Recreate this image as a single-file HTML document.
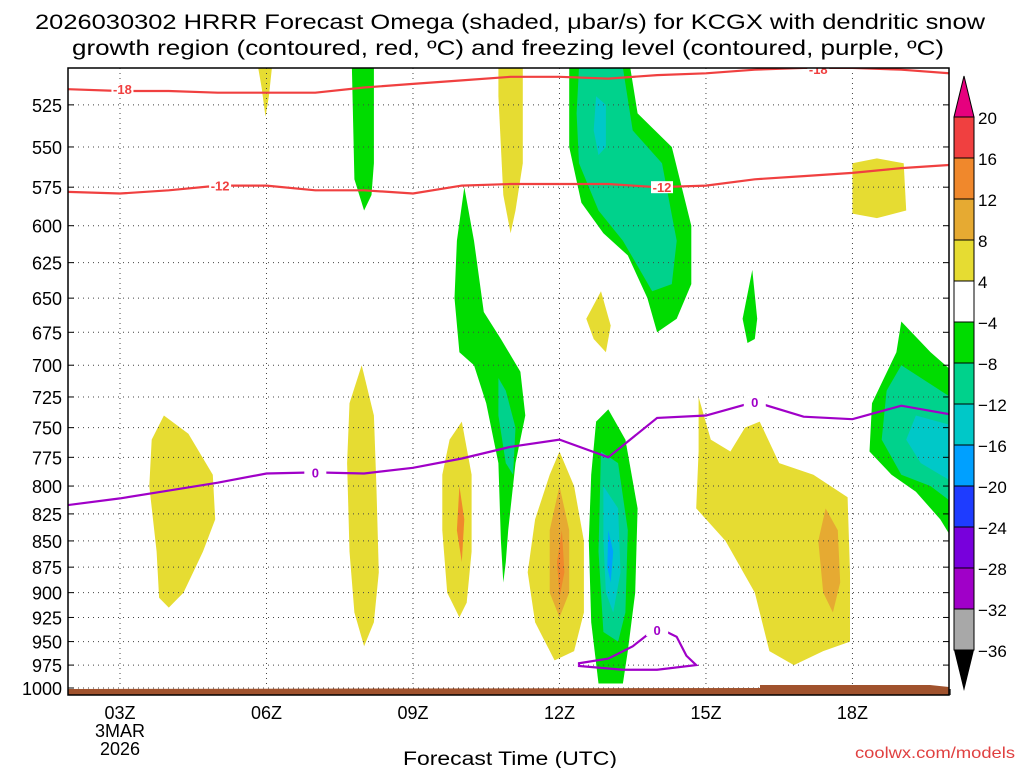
<!DOCTYPE html>
<html><head><meta charset="utf-8"><style>
body{margin:0;background:#fff;}
svg{display:block;font-family:"Liberation Sans",sans-serif;}
</style></head><body>
<svg id="chart" width="1024" height="768">
<text x="35" y="29" textLength="950" lengthAdjust="spacingAndGlyphs" font-size="21">2026030302 HRRR Forecast Omega (shaded, μbar/s) for KCGX with dendritic snow</text>
<text x="72" y="55" textLength="872" lengthAdjust="spacingAndGlyphs" font-size="21">growth region (contoured, red, ºC) and freezing level (contoured, purple, ºC)</text>
<g id="plot"></g>
<text x="403" y="765" textLength="214" lengthAdjust="spacingAndGlyphs" font-size="19">Forecast Time (UTC)</text>
<text x="855" y="758" textLength="160" lengthAdjust="spacingAndGlyphs" font-size="16" fill="#e04040">coolwx.com/models</text>
<g id="cbar"></g>
</svg>
<script>
const pLevels=[525,550,575,600,625,650,675,700,725,750,775,800,825,850,875,900,925,950,975,1000];
const xTickHours=[3,6,9,12,15,18];
const xTickLabels=["03Z","06Z","09Z","12Z","15Z","18Z"];
const cbarLevels=[20,16,12,8,4,-4,-8,-12,-16,-20,-24,-28,-32,-36];
const cbarColors=["#f04040","#f0882c","#e6aa32","#e6dc32","#ffffff","#00dc00","#00d28c","#00c8c8","#00a0ff","#1e3cff","#7800dc","#a000c8","#a8a8a8"];
const lineHours=[1.93,3,4,5,6,7,8,9,10,11,12,13,14,15,16,17,18,19,20];
const m18=[516,517,517,518,518,518,515,513,511,509,509,510,508,507,505,504,504,505,507];
const m12=[578,579,577,574,574,577,577,579,574,573,573,573,575,574,570,568,566,563,561];
const zeroLine=[817,811,804,797,789,788,789,784,776,766,760,775,742,740,729,741,743,732,739];
const zeroLoop=[[12.4,973],[13.0,968],[13.5,955],[14.0,935],[14.4,945],[14.6,965],[14.8,975],[14.0,980],[13.3,980],[12.4,976]];
const Y="#e6dc32",G="#e6aa32",O="#f0882c",GR="#00dc00",T="#00d28c",C="#00c8c8",B="#00a0ff";
const blobs=[
[Y,[[3.9,740],[4.4,755],[4.9,790],[4.95,830],[4.7,860],[4.5,880],[4.3,900],[4.0,915],[3.8,905],[3.75,860],[3.6,800],[3.65,760]]],
[Y,[[7.95,700],[8.2,740],[8.25,800],[8.3,880],[8.2,930],[8.0,955],[7.8,920],[7.7,860],[7.65,780],[7.7,730]]],
[Y,[[10.0,745],[10.2,790],[10.2,860],[10.1,910],[9.95,925],[9.7,900],[9.6,840],[9.6,790],[9.75,760]]],
[O,[[9.95,800],[10.05,830],[10.0,870],[9.9,840]]],
[Y,[[12.0,770],[12.3,800],[12.5,850],[12.5,920],[12.3,960],[11.9,970],[11.5,930],[11.35,880],[11.5,830],[11.8,790]]],
[G,[[12.0,800],[12.2,840],[12.2,900],[12.0,925],[11.8,900],[11.8,840]]],
[O,[[12.05,840],[12.1,880],[12.0,905],[11.95,870]]],
[Y,[[14.85,725],[15.1,760],[15.5,770],[15.8,750],[16.1,745],[16.5,780],[17.2,790],[17.9,810],[17.95,880],[17.95,950],[17.4,960],[16.8,975],[16.3,960],[16.0,900],[15.4,850],[14.8,820],[14.85,770]]],
[G,[[17.45,820],[17.7,840],[17.75,890],[17.6,920],[17.4,900],[17.3,850]]],
[Y,[[5.83,504],[6.11,504],[6.05,520],[5.98,532],[5.9,515]]],
[Y,[[10.75,504],[11.25,504],[11.25,560],[11.1,590],[11.0,605],[10.85,580],[10.75,520]]],
[Y,[[12.85,645],[13.05,670],[12.95,690],[12.7,680],[12.55,665]]],
[Y,[[18.0,560],[18.5,557],[19.05,560],[19.1,590],[18.5,595],[18.0,592]]],
[GR,[[7.75,504],[8.2,504],[8.2,560],[8.15,580],[8.0,590],[7.8,570]]],
[GR,[[10.05,575],[10.25,610],[10.45,660],[10.8,680],[11.2,705],[11.3,740],[11.1,780],[10.95,840],[10.9,870],[10.85,890],[10.8,850],[10.75,780],[10.5,730],[10.25,700],[9.95,690],[9.85,650],[9.9,610]]],
[T,[[10.75,710],[10.9,720],[11.1,750],[11.05,790],[10.9,780],[10.75,740]]],
[GR,[[12.2,504],[13.45,504],[13.6,530],[14.3,550],[14.7,600],[14.7,640],[14.4,665],[14.0,675],[13.8,650],[13.4,620],[12.9,605],[12.45,585],[12.2,550]]],
[T,[[12.4,504],[13.3,504],[13.5,540],[14.1,560],[14.4,610],[14.3,640],[13.9,645],[13.3,610],[12.8,590],[12.4,560],[12.35,530]]],
[C,[[12.75,520],[12.95,525],[12.95,550],[12.8,555],[12.7,540]]],
[GR,[[12.75,745],[13.0,735],[13.35,760],[13.6,820],[13.55,900],[13.4,960],[13.3,995],[12.8,995],[12.65,930],[12.6,850],[12.65,790]]],
[T,[[12.85,770],[13.2,780],[13.4,840],[13.35,920],[13.2,950],[12.9,940],[12.8,860]]],
[C,[[12.9,800],[13.2,820],[13.25,880],[13.1,920],[12.95,900],[12.9,850]]],
[B,[[13.0,840],[13.1,860],[13.05,890],[12.98,875]]],
[GR,[[15.95,630],[16.05,665],[16.0,680],[15.85,683],[15.75,665]]],
[GR,[[18.9,690],[19.0,667],[19.6,690],[20.2,710],[20.2,860],[19.8,830],[19.3,805],[18.8,790],[18.35,770],[18.4,730]]],
[T,[[19.0,700],[20.2,730],[20.2,820],[19.6,800],[19.0,790],[18.6,760],[18.7,720]]],
[C,[[19.3,740],[20.2,750],[20.2,800],[19.8,790],[19.4,780],[19.1,760]]]
];
const X0=68,X1=949,Y0=68,Y1=688;
const xs=t=>120+(t-3)*48.83;
const ys=p=>688-905*Math.log(1000/p);
const NS="http://www.w3.org/2000/svg";
const plot=document.getElementById('plot');
function mk(tag,attrs,parent){const e=document.createElementNS(NS,tag);for(const k in attrs)e.setAttribute(k,attrs[k]);parent.appendChild(e);return e;}
const defs=mk('defs',{},plot);
const cp=mk('clipPath',{id:'clip'},defs);mk('rect',{x:X0,y:Y0,width:X1-X0,height:Y1-Y0+8},cp);
const g=mk('g',{'clip-path':'url(#clip)'},plot);
blobs.forEach((b,i)=>{
 const pts=b[1].map(q=>xs(q[0]).toFixed(1)+','+ys(q[1]).toFixed(1)).join(' ');
 const el=mk('polygon',{points:pts,fill:b[0]},g);
 
 
});
pLevels.forEach(p=>{const l=mk('line',{x1:X0,x2:X1,y1:ys(p),y2:ys(p),stroke:'#444','stroke-width':1,'stroke-dasharray':'1,4'},g);
 
 
 const t=mk('text',{x:62,y:ys(p)+7,'text-anchor':'end','font-size':18},plot);t.textContent=p;
 
 
 mk('line',{x1:X0,x2:X0+6,y1:ys(p),y2:ys(p),stroke:'#000'},plot);
 mk('line',{x1:X1-6,x2:X1,y1:ys(p),y2:ys(p),stroke:'#000'},plot);
});
xTickHours.forEach((h,i)=>{mk('line',{x1:xs(h),x2:xs(h),y1:Y0,y2:Y1,stroke:'#444','stroke-dasharray':'1,4'},g);
 const t=mk('text',{x:xs(h),y:719,'text-anchor':'middle','font-size':18},plot);t.textContent=xTickLabels[i];
 
 
});
for(let h=2;h<=20;h++){mk('line',{x1:xs(h),x2:xs(h),y1:695,y2:689,stroke:'#000'},plot);}
[["3MAR",737],["2026",755]].forEach(a=>{const t=mk('text',{x:xs(3),y:a[1],'text-anchor':'middle','font-size':18},plot);t.textContent=a[0];
 
 });
const gr=mk('polygon',{points:`${X0},689 760,688 760,685 930,685 ${X1},687 ${X1},695 ${X0},695`,fill:'#a0522d'},plot);


function line(vals,color,name){
 const d=vals.map((v,i)=>(i?'L':'M')+xs(lineHours[i]).toFixed(1)+','+ys(v).toFixed(1)).join('');
 const e=mk('path',{d:d,fill:'none',stroke:color,'stroke-width':2.2},g);
 
 
}
line(m18,'#f04040','contour-minus-18');
line(m12,'#f04040','contour-minus-12');
line(zeroLine,'#a000c8','freezing-level-0');
const lp=mk('polygon',{points:zeroLoop.map(q=>xs(q[0])+','+ys(q[1])).join(' '),fill:'none',stroke:'#a000c8','stroke-width':2.2},g);


[["-18",3.05,516,'#f04040'],["-12",5.05,574,'#f04040'],["-12",14.1,575,'#f04040'],["-18",17.3,504.5,'#f04040'],["0",7.0,788,'#a000c8'],["0",16.0,729,'#a000c8'],["0",14.0,938,'#a000c8']].forEach(a=>{
 const x=xs(a[1]),y=ys(a[2]);
 mk('rect',{x:x-11,y:y-6,width:22,height:12,fill:'#fff'},g);
 const t=mk('text',{x:x,y:y+5,'text-anchor':'middle','font-size':13,'font-weight':'bold',fill:a[3]},g);t.textContent=a[0];
 
 
});
mk('rect',{x:X0,y:Y0,width:X1-X0,height:695-Y0,fill:'none',stroke:'#000','stroke-width':1.5},plot);
const cb=document.getElementById('cbar');
const cx=954,cw=20,ctop=117,step=41;
cbarColors.forEach((c,i)=>{const r=mk('rect',{x:cx,y:ctop+i*step,width:cw,height:step,fill:c,stroke:'#000','stroke-width':1},cb);
 
 });
mk('polygon',{points:`${cx},${ctop} ${cx+cw},${ctop} ${cx+cw/2},76`,fill:'#e6007e',stroke:'#000'},cb);
const cbot=ctop+cbarColors.length*step;
mk('polygon',{points:`${cx},${cbot} ${cx+cw},${cbot} ${cx+cw/2},691`,fill:'#000'},cb);
cbarLevels.forEach((v,i)=>{const t=mk('text',{x:978,y:ctop+i*step+7,'font-size':17},cb);t.textContent=v<0?'\u2212'+(-v):v;
 
 });
</script>
</body></html>
